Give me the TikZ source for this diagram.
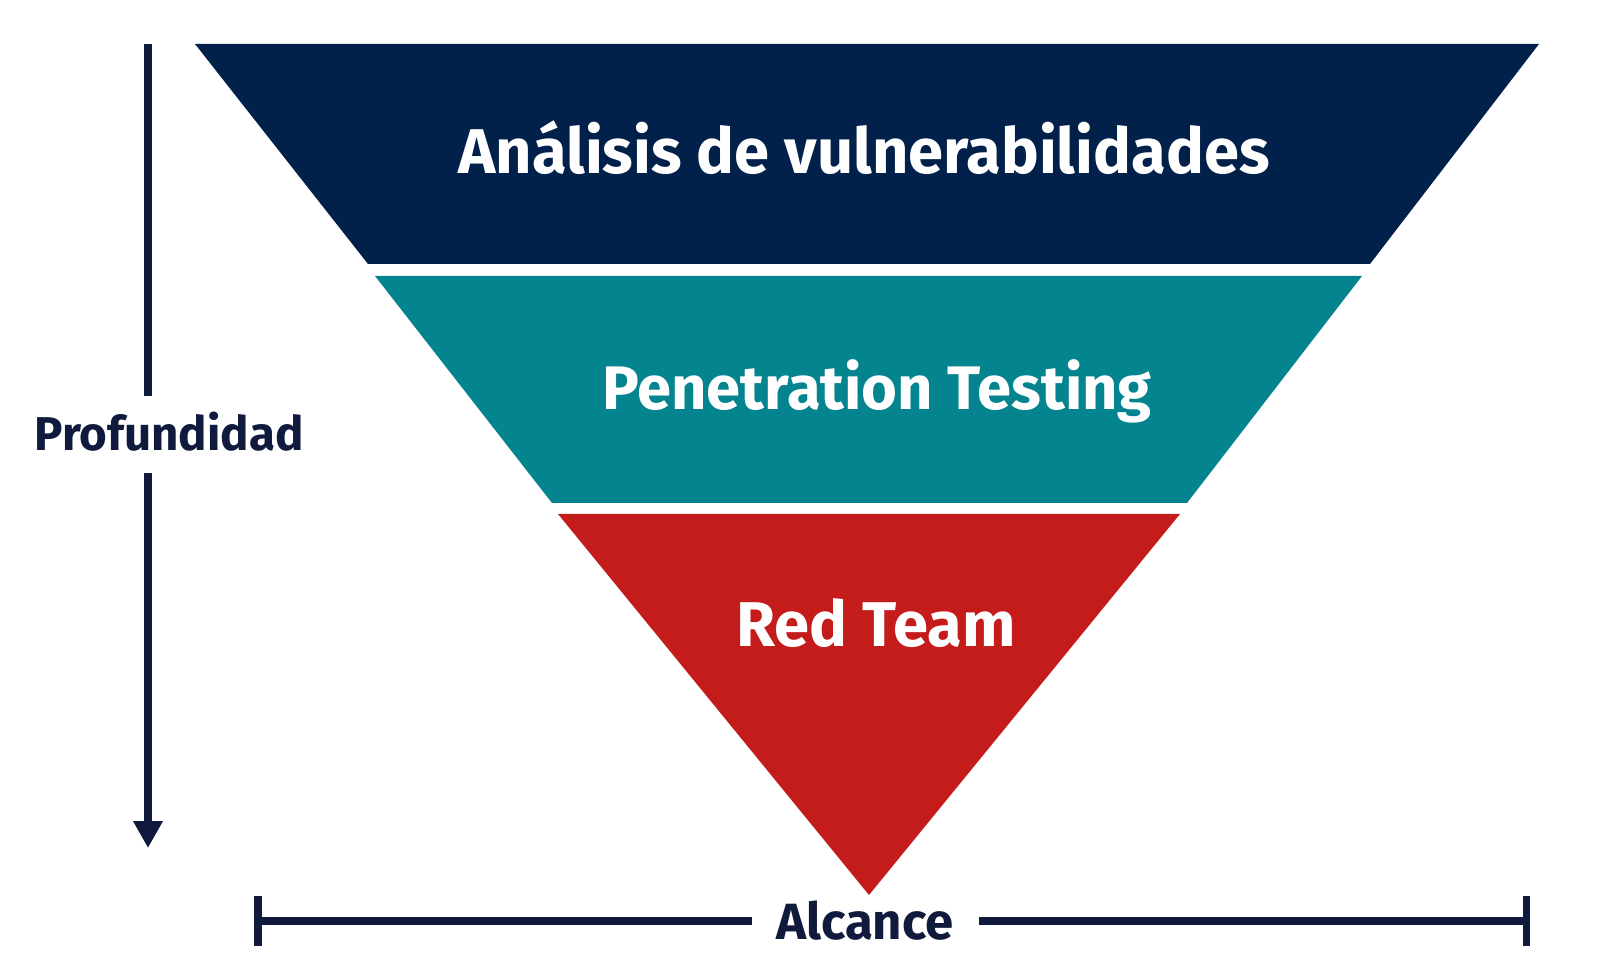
\documentclass[tikz,border=0pt]{standalone}
\usepackage{fontspec}
\setmainfont{Fira Sans}
\usepackage{xcolor}
\definecolor{mnavy}{HTML}{02214A}
\definecolor{mteal}{HTML}{04848F}
\definecolor{mred}{HTML}{C41B1B}
\definecolor{mink}{HTML}{101A3C}
\usetikzlibrary{arrows.meta}

\tikzset{
  band/.style={draw=none},
  bandtext/.style={text=white, font=\fontsize{36}{40}\selectfont\bfseries},
  axistext/.style={text=mink, font=\fontsize{27}{31}\selectfont\bfseries},
  axisline/.style={mink, line width=4pt},
}

\begin{document}
\begin{tikzpicture}[x=0.02cm, y=-0.02cm]
        \useasboundingbox[fill=white] (0, 0) rectangle (1619, 972);
        % bands
        \fill[band, mnavy] (195, 44) -- (1539, 44) -- (1370, 264) -- (368, 264) -- cycle;
        \fill[band, mteal] (375, 276) -- (1362, 276) -- (1187, 503) -- (552, 503) -- cycle;
        \fill[band, mred] (558, 514) -- (1180, 514) -- (869, 895) -- cycle;
        \node[bandtext] (vuln) at (864, 148) {Análisis de vulnerabilidades};
        \node[bandtext, font=\fontsize{35}{39}\selectfont\bfseries] (pentest) at (877, 391) {Penetration Testing};
        \node[bandtext] (redteam) at (876, 623) {Red Team};
        % axes
        \node[axistext] (depth) at (169, 432) {Profundidad};
        \coordinate (depthtop) at (148, 44);
        \coordinate (depthgapa) at (148, 396);
        \coordinate (depthgapb) at (148, 473);
        \coordinate (depthend) at (148, 848);
        \draw[axisline] (depthtop) -- (depthgapa);
        \draw[axisline, -{Triangle[width=0.56cm, length=0.54cm]}] (depthgapb) -- (depthend);
        \node[axistext, font=\fontsize{29}{33}\selectfont\bfseries] (reach) at (865, 921) {Alcance};
        \coordinate (reachl) at (258, 921);
        \coordinate (reachgapa) at (752, 921);
        \coordinate (reachgapb) at (979, 921);
        \coordinate (reachr) at (1526, 921);
        \draw[axisline] (reachl) -- (reachgapa);
        \draw[axisline] (reachgapb) -- (reachr);
        \draw[axisline] (258, 896) -- (258, 946);
        \draw[axisline] (1526, 896) -- (1526, 946);
\end{tikzpicture}
\end{document}
